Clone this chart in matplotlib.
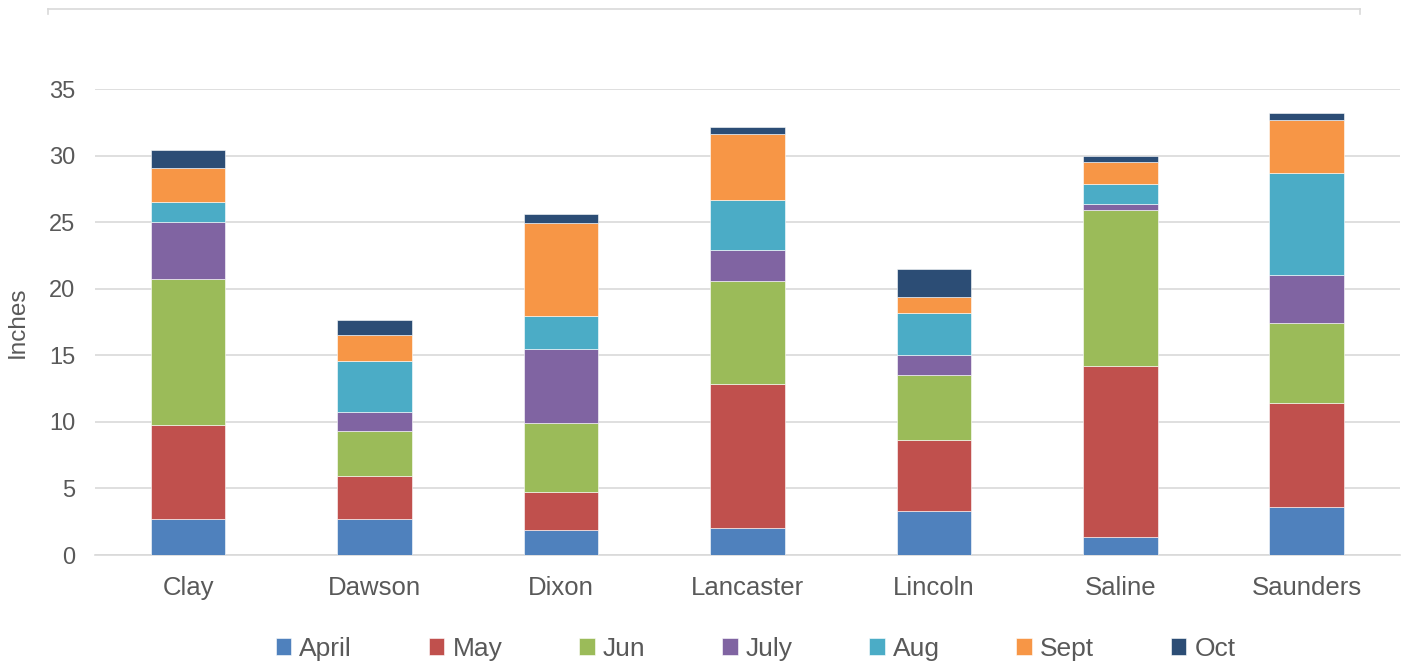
import matplotlib.pyplot as plt
import numpy as np
from matplotlib.lines import Line2D

plt.rcParams["font.family"] = ["Liberation Sans", "DejaVu Sans"]

counties = ["Clay", "Dawson", "Dixon", "Lancaster", "Lincoln", "Saline", "Saunders"]
months = ["April", "May", "Jun", "July", "Aug", "Sept", "Oct"]

april = [2.7, 2.7, 1.9, 2.0, 3.3, 1.35, 3.6]
may = [7.05, 3.2, 2.85, 10.85, 5.3, 12.85, 7.8]
jun = [11.0, 3.45, 5.15, 7.7, 4.9, 11.7, 6.05]
july = [4.25, 1.4, 5.6, 2.35, 1.55, 0.5, 3.55]
aug = [1.5, 3.8, 2.45, 3.8, 3.1, 1.45, 7.7]
sept = [2.6, 2.0, 6.95, 4.9, 1.25, 1.7, 4.0]
octo = [1.3, 1.1, 0.7, 0.55, 2.05, 0.4, 0.5]

series = [april, may, jun, july, aug, sept, octo]
colors = ["#4F81BD", "#C0504D", "#9BBB59", "#8064A2", "#4BACC6", "#F79646", "#2C4D75"]

text_color = "#595959"
grid_color = "#D9D9D9"

fig = plt.figure(figsize=(14.07, 6.62), dpi=100)
ax = fig.add_axes([95 / 1407, 1 - 555 / 662, 1305 / 1407, 466 / 662])

x = np.arange(len(counties))
bottom = np.zeros(len(counties))
for name, vals, col in zip(months, series, colors):
    ax.bar(x, vals, width=0.4, bottom=bottom, color=col, label=name,
           edgecolor="#FFFFFF", linewidth=0.4, zorder=3)
    bottom += np.array(vals)

ax.set_xlim(-0.5, len(counties) - 0.5)
ax.set_ylim(0, 35)
ax.set_yticks(range(0, 36, 5))
ax.set_xticks(x)
ax.set_xticklabels(counties)
ax.grid(True, axis="y", color=grid_color, linewidth=1.2, zorder=0)
for side in ["top", "right", "left"]:
    ax.spines[side].set_visible(False)
ax.spines["bottom"].set_color(grid_color)
ax.spines["bottom"].set_linewidth(1.2)
ax.tick_params(axis="y", length=0, pad=14, labelsize=17, labelcolor=text_color)
ax.tick_params(axis="x", length=0, pad=15, labelsize=18.5, labelcolor=text_color)
ax.set_ylabel("Inches", fontsize=17.5, color=text_color)
ax.yaxis.set_label_coords(-0.051, 0.5)

fig.legend(loc="center", bbox_to_anchor=(0.537, 1 - 649 / 662), ncol=7,
           frameon=False, fontsize=19, handlelength=0.6, handleheight=0.6,
           handletextpad=0.3, columnspacing=2.9, labelcolor=text_color)

# chart area border (top edge only visible)
y_top = 1 - 8.5 / 662
x0, x1 = 48 / 1407, 1360 / 1407
fig.add_artist(Line2D([x0, x1], [y_top, y_top], color=grid_color, linewidth=1.2))
fig.add_artist(Line2D([x0, x0], [y_top, 1 - 14 / 662], color=grid_color, linewidth=1.2))
fig.add_artist(Line2D([x1, x1], [y_top, 1 - 14 / 662], color=grid_color, linewidth=1.2))

fig.savefig("out.png", dpi=100)
